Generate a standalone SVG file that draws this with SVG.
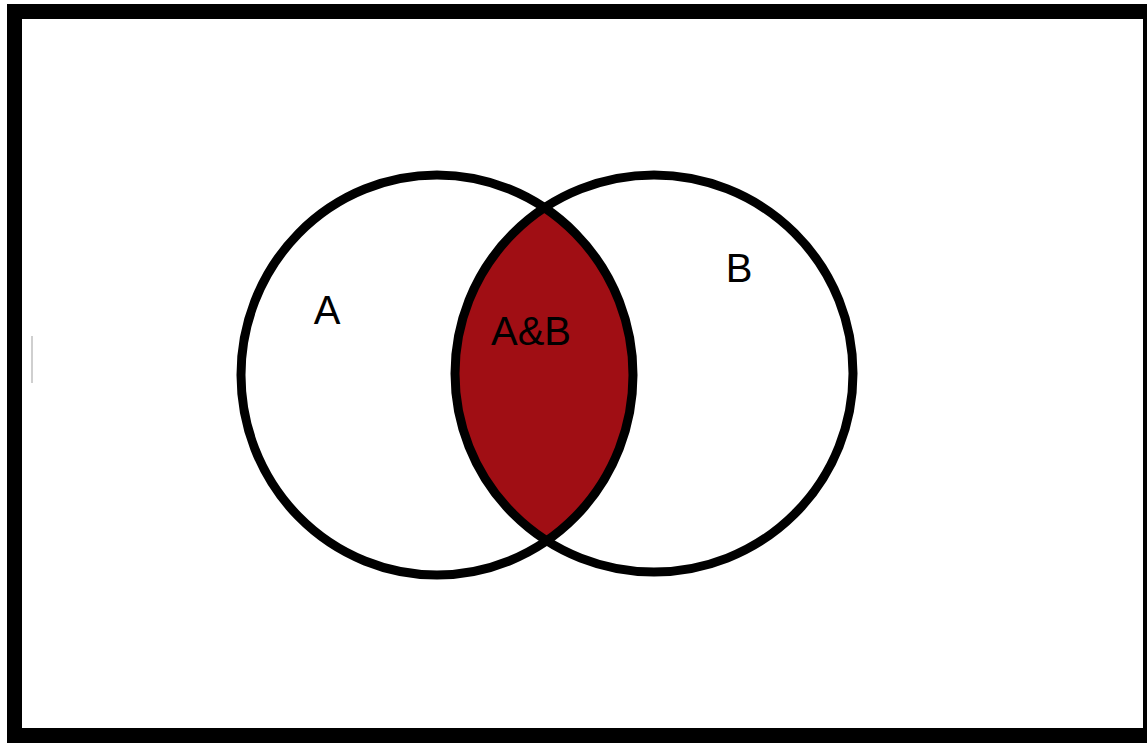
<svg xmlns="http://www.w3.org/2000/svg" width="1147" height="743" viewBox="0 0 1147 743">
<style>
.ring{fill:none;stroke:#000;stroke-width:9}
.lbl{font-family:"Liberation Sans",Arial,sans-serif;font-size:40px;fill:#000;text-anchor:middle}
.frame{fill:#000}
</style>
<defs>
<clipPath id="clipA"><ellipse cx="437" cy="375" rx="196" ry="200"/></clipPath>
</defs>
<rect width="1147" height="743" fill="#fff"/>
<g id="frame">
<rect class="frame" x="7" y="4" width="1140" height="15"/>
<rect class="frame" x="7" y="4" width="15" height="739"/>
<rect class="frame" x="7" y="728" width="1140" height="15"/>
<rect class="frame" x="1143" y="4" width="4" height="739"/>
<rect x="31" y="336" width="2" height="47" fill="#cfcfcf"/>
</g>
<g id="intersection">
<ellipse cx="654" cy="373.5" rx="199" ry="198.5" fill="#a00e14" clip-path="url(#clipA)"/>
</g>
<g id="setA">
<ellipse class="ring" cx="437" cy="375" rx="196" ry="200"/>
<text class="lbl" x="327" y="324">A</text>
</g>
<g id="setB">
<ellipse class="ring" cx="654" cy="373.5" rx="199" ry="198.5"/>
<text class="lbl" x="739" y="282">B</text>
</g>
<g id="labelAB">
<text class="lbl" x="531" y="345">A&amp;B</text>
</g>
<g id="connectors"/>
</svg>
